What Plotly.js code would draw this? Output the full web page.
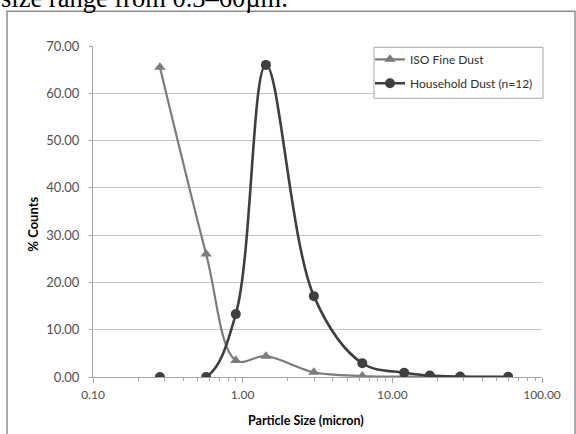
<!DOCTYPE html>
<html>
<head>
<meta charset="utf-8">
<script src="https://cdn.plot.ly/plotly-3.0.1.min.js"></script>
<style>
html,body{margin:0;padding:0;background:#fff;}
#chart{width:576px;height:434px;}
</style>
</head>
<body>
<div id="chart"></div>
<script>
// Data
var particleSize = [0.28, 0.57, 0.90, 1.43, 2.99, 6.3, 12.0, 17.8, 28.4, 59.4];
var isoFineDust = [65.5, 26.0, 3.5, 4.4, 1.0, 0.2, 0.1, 0.05, 0.02, 0.0];
var householdDust = [0.0, 0.0, 13.3, 66.0, 17.1, 2.9, 0.9, 0.3, 0.1, 0.05];
var seriesNames = ["ISO Fine Dust", "Household Dust (n=12)"];

var L = 93, R = 542, T = 45.7, B = 377; // plot box in pixels
var W = 576, H = 434;
function px(x){ return (x - L) / (R - L); }
function py(y){ return (B - y) / (B - T); }

var traces = [
  {
    x: particleSize, y: isoFineDust, name: seriesNames[0], legend: 'legend',
    type: 'scatter', mode: 'lines+markers',
    line: {color: '#7c7c7c', width: 2.2, shape: 'spline', smoothing: 1},
    marker: {symbol: 'triangle-up', size: 10, color: '#7c7c7c'}
  },
  {
    x: particleSize, y: householdDust, name: seriesNames[1], legend: 'legend2',
    type: 'scatter', mode: 'lines+markers',
    line: {color: '#3f3f3f', width: 2.6, shape: 'spline', smoothing: 1},
    marker: {symbol: 'circle', size: 10, color: '#3f3f3f'}
  }
];

var legendCommon = {
  xanchor: 'left', yanchor: 'middle',
  borderwidth: 0, bgcolor: 'rgba(0,0,0,0)',
  font: {family: 'Lato, sans-serif', size: 12, color: '#303030'},
  itemwidth: 30
};

var layout = {
  width: W, height: H,
  margin: {l: L, r: W - R, t: T, b: H - B, pad: 0},
  paper_bgcolor: '#ffffff', plot_bgcolor: '#ffffff',
  font: {family: 'Lato, "Open Sans", sans-serif', size: 11, color: '#404040'},
  showlegend: true,
  legend: Object.assign({x: px(370), y: py(59)}, legendCommon),
  legend2: Object.assign({x: px(370), y: py(83)}, legendCommon),
  xaxis: {
    type: 'log', range: [-1, 2], dtick: 1, tickformat: '.2f',
    showgrid: false, zeroline: false,
    showline: true, linecolor: '#a6a6a6', linewidth: 1,
    ticks: 'outside', ticklen: 5, tickcolor: '#a6a6a6',
    ticklabelstandoff: 2,
    minor: {ticks: 'outside', ticklen: 3, tickcolor: '#a6a6a6', dtick: 'D1', showgrid: false},
    tickfont: {family: 'Lato, sans-serif', size: 12, color: '#505050'}
  },
  yaxis: {
    range: [0, 70], dtick: 10, tickformat: '.2f',
    showgrid: true, gridcolor: '#c6c6c6', gridwidth: 1,
    zeroline: false,
    showline: true, linecolor: '#a6a6a6', linewidth: 1,
    ticks: 'outside', ticklen: 3, tickcolor: '#a6a6a6',
    ticklabelstandoff: 7,
    tickfont: {family: 'Lato, sans-serif', size: 13, color: '#505050'}
  },
  annotations: [
    {
      xref: 'paper', yref: 'paper', x: px(33), y: py(223.5),
      text: '% Counts', textangle: -90, showarrow: false,
      xanchor: 'center', yanchor: 'middle',
      font: {family: 'Lato, sans-serif', size: 13, color: '#000000', weight: 'bold'}
    },
    {
      xref: 'paper', yref: 'paper', x: px(306), y: py(421),
      text: 'Particle Size (micron)', showarrow: false,
      xanchor: 'center', yanchor: 'middle',
      font: {family: 'Lato, sans-serif', size: 12.5, color: '#000000', weight: 'bold'}
    },
    {
      xref: 'paper', yref: 'paper', x: px(-1), y: py(-2),
      text: 'size range from 0.3–60µm.', showarrow: false,
      xanchor: 'left', yanchor: 'middle',
      font: {family: '"Liberation Serif", "DejaVu Serif", serif', size: 26.5, color: '#000000'}
    }
  ],
  shapes: [
    {
      type: 'rect', xref: 'paper', yref: 'paper',
      x0: px(7), x1: px(575), y0: py(450), y1: py(11),
      line: {color: '#8c8c8c', width: 1.5}, fillcolor: 'rgba(0,0,0,0)', layer: 'below'
    },
    {
      type: 'rect', xref: 'paper', yref: 'paper',
      x0: px(374), x1: px(543), y0: py(98), y1: py(47),
      line: {color: '#a8a8a8', width: 1}, fillcolor: '#ffffff', layer: 'above'
    }
  ]
};

Plotly.newPlot('chart', traces, layout, {staticPlot: true, displayModeBar: false});
</script>
</body>
</html>
